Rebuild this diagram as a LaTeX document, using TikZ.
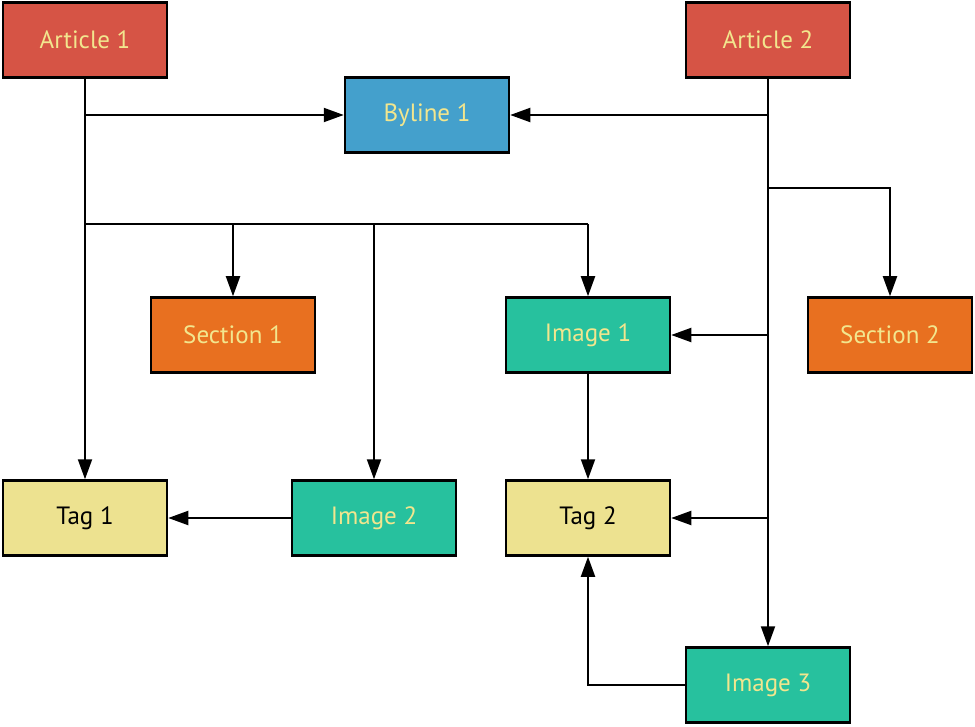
\documentclass[tikz,border=0pt]{standalone}
\usepackage{fontspec}
\setmainfont{PT Sans}
\usetikzlibrary{arrows.meta}
\definecolor{cred}{HTML}{D65445}
\definecolor{cblue}{HTML}{44A0CC}
\definecolor{corange}{HTML}{E87020}
\definecolor{cteal}{HTML}{27C19E}
\definecolor{ctag}{HTML}{EDE290}
\definecolor{ctext}{HTML}{F2E68E}
\tikzset{
  box/.style={draw=black, line width=2.5pt, minimum width=164pt, minimum height=75pt, inner sep=0pt, font=\fontsize{25}{28}\selectfont, text=ctext},
  artbox/.style={box, fill=cred},
  bybox/.style={box, fill=cblue},
  secbox/.style={box, fill=corange},
  imgbox/.style={box, fill=cteal},
  tagbox/.style={box, fill=ctag, text=black},
  arr/.style={draw=black, line width=2pt, -{Triangle[length=20pt,width=14pt]}},
  ln/.style={draw=black, line width=2pt},
}
\begin{document}
\begin{tikzpicture}[x=1pt,y=-1pt]
\useasboundingbox (0,0) rectangle (975,727);
\node[artbox] (a1) at (85,40) {Article 1};
\node[artbox] (a2) at (768,40) {Article 2};
\node[bybox] (by) at (427,115) {Byline 1};
\node[secbox] (s1) at (233,335) {Section 1};
\node[imgbox] (i1) at (588,335) {Image 1};
\node[secbox] (s2) at (890,335) {Section 2};
\node[tagbox] (t1) at (85,518) {Tag 1};
\node[imgbox] (i2) at (374,518) {Image 2};
\node[tagbox] (t2) at (588,518) {Tag 2};
\node[imgbox] (i3) at (768,685) {Image 3};
\coordinate (h1) at (85,224);
\coordinate (h2) at (768,188);
% Article 1
\draw[arr] (a1) -- (t1);
\draw[arr] (a1.south |- by.west) -- (by.west);
\draw[ln] (h1) -- (i1.north |- h1);
\draw[arr] (s1.north |- h1) -- (s1.north);
\draw[arr] (i1.north |- h1) -- (i1.north);
\draw[arr] (i2.north |- h1) -- (i2.north);
% Article 2
\draw[arr] (a2) -- (i3);
\draw[arr] (a2.south |- by.east) -- (by.east);
\draw[arr] (h2) -| (s2.north);
\draw[arr] (a2.south |- i1.east) -- (i1.east);
\draw[arr] (a2.south |- t2.east) -- (t2.east);
% others
\draw[arr] (i1) -- (t2);
\draw[arr] (i2) -- (t1);
\draw[arr] (i3) -| (t2);
\end{tikzpicture}
\end{document}
